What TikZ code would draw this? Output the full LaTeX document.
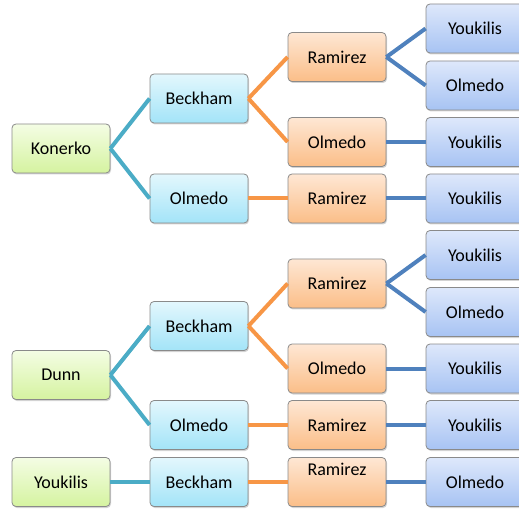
\documentclass[tikz,border=0pt]{standalone}
\usepackage{fontspec}
\setmainfont{Carlito}
\usetikzlibrary{shadows}
\definecolor{gtop}{HTML}{F4FDE4}
\definecolor{gbot}{HTML}{D5F3A0}
\definecolor{ctop}{HTML}{E3F7FD}
\definecolor{cbot}{HTML}{A3E4F8}
\definecolor{otop}{HTML}{FEE7D4}
\definecolor{obot}{HTML}{FBBE88}
\definecolor{btop}{HTML}{DEE8FB}
\definecolor{bbot}{HTML}{A7C3F3}
\definecolor{bord}{HTML}{8A8A8A}
\definecolor{lteal}{HTML}{4BACC6}
\definecolor{lorange}{HTML}{F79646}
\definecolor{lblue}{HTML}{4F81BD}
\tikzset{
  box/.style={draw=bord, line width=0.8pt, rounded corners=4pt, minimum width=98pt, minimum height=49pt,
    font=\fontsize{18}{20}\selectfont, text=black, inner sep=0pt,
    drop shadow={opacity=0.35, shadow xshift=1pt, shadow yshift=-1.5pt}},
  gbox/.style={box, top color=gtop, bottom color=gbot},
  cbox/.style={box, top color=ctop, bottom color=cbot},
  obox/.style={box, top color=otop, bottom color=obot},
  bbox/.style={box, top color=btop, bottom color=bbot},
  tl/.style={draw=lteal, line width=4pt},
  ol/.style={draw=lorange, line width=4pt},
  bl/.style={draw=lblue, line width=4pt},
}
\begin{document}
\begin{tikzpicture}[x=1pt,y=-1pt]
\useasboundingbox (0,0) rectangle (519,510);
% right column
\node[bbox] (y1) at (475,28.5) {Youkilis};
\node[bbox] (y2) at (475,85.5) {Olmedo};
\node[bbox] (y3) at (475,142) {Youkilis};
\node[bbox] (y4) at (475,198.5) {Youkilis};
\node[bbox] (y5) at (475,255) {Youkilis};
\node[bbox] (y6) at (475,312) {Olmedo};
\node[bbox] (y7) at (475,368.5) {Youkilis};
\node[bbox] (y8) at (475,425) {Youkilis};
\node[bbox] (y9) at (475,482) {Olmedo};
% orange column
\node[obox] (o1) at (337,57) {Ramirez};
\node[obox] (o2) at (337,142) {Olmedo};
\node[obox] (o3) at (337,198.5) {Ramirez};
\node[obox] (o4) at (337,283.5) {Ramirez};
\node[obox] (o5) at (337,368.5) {Olmedo};
\node[obox] (o6) at (337,425) {Ramirez};
\node[obox, label={[anchor=north, inner sep=0pt, yshift=-6pt, font=\fontsize{18}{20}\selectfont]north:Ramirez}] (o7) at (337,482) {};
% cyan column
\node[cbox] (c1) at (199,98.5) {Beckham};
\node[cbox] (c2) at (199,198.5) {Olmedo};
\node[cbox] (c3) at (199,326) {Beckham};
\node[cbox] (c4) at (199,425) {Olmedo};
\node[cbox] (c5) at (199,482) {Beckham};
% green column
\node[gbox] (g1) at (61,148.5) {Konerko};
\node[gbox] (g2) at (61,375) {Dunn};
\node[gbox] (g3) at (61,482) {Youkilis};
% connectors
\draw[tl] (g1.east) -- (c1.west);
\draw[tl] (g1.east) -- (c2.west);
\draw[tl] (g2.east) -- (c3.west);
\draw[tl] (g2.east) -- (c4.west);
\draw[tl] (g3.east) -- (c5.west);
\draw[ol] (c1.east) -- (o1.west);
\draw[ol] (c1.east) -- (o2.west);
\draw[ol] (c2.east) -- (o3.west);
\draw[ol] (c3.east) -- (o4.west);
\draw[ol] (c3.east) -- (o5.west);
\draw[ol] (c4.east) -- (o6.west);
\draw[ol] (c5.east) -- (o7.west);
\draw[bl] (o1.east) -- (y1.west);
\draw[bl] (o1.east) -- (y2.west);
\draw[bl] (o2.east) -- (y3.west);
\draw[bl] (o3.east) -- (y4.west);
\draw[bl] (o4.east) -- (y5.west);
\draw[bl] (o4.east) -- (y6.west);
\draw[bl] (o5.east) -- (y7.west);
\draw[bl] (o6.east) -- (y8.west);
\draw[bl] (o7.east) -- (y9.west);
\end{tikzpicture}
\end{document}
